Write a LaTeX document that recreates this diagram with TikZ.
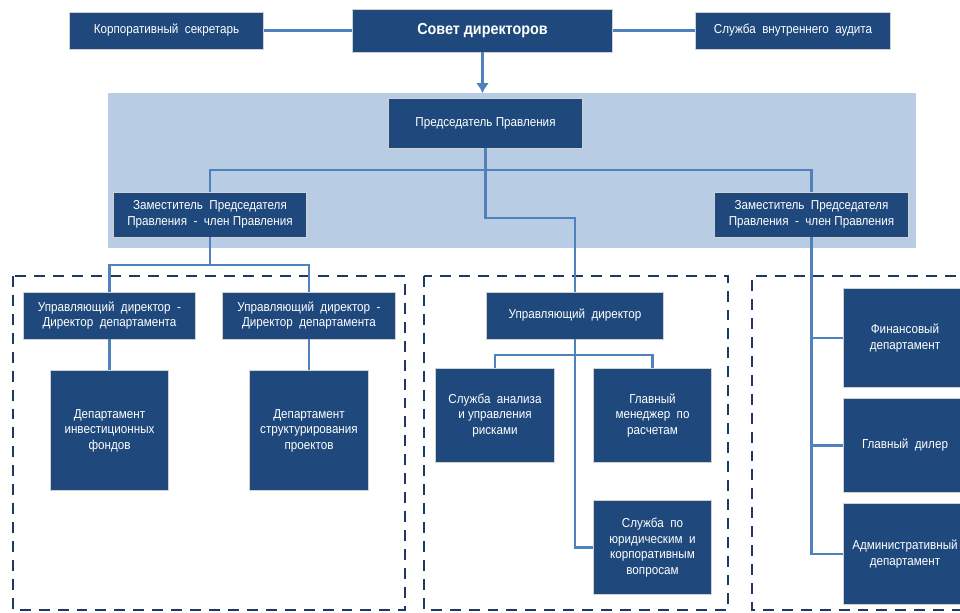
\documentclass[tikz,border=0pt]{standalone}
\usepackage{fontspec}
\setmainfont{Liberation Sans}[FakeStretch=0.9]
\usetikzlibrary{calc,arrows.meta}
\definecolor{boxblue}{RGB}{31,73,125}
\definecolor{linkblue}{RGB}{79,129,189}
\definecolor{bandblue}{RGB}{184,204,228}
\definecolor{dashnavy}{RGB}{31,56,100}
\tikzset{
  orgbox/.style={fill=boxblue, draw=black!18, line width=0.8, text=white, inner sep=0pt,
    align=center, font=\fontsize{13}{15.5}\selectfont},
  conn/.style={draw=linkblue, line width=2.6},
  grp/.style={draw=dashnavy, line width=2.4, dash pattern=on 11 off 8},
}
\begin{document}
\begin{tikzpicture}[x=1bp,y=-1bp]
\useasboundingbox (0,0) rectangle (960,613);
\clip (0,0) rectangle (960,613);
\fill[white] (0,0) rectangle (960,613);
% band
\node[fill=bandblue, minimum width=811, minimum height=155, inner sep=0] (band) at (511.5,170.5) {};
% dashed groups
\draw[grp] (13,276) rectangle (405,610);
\draw[grp] (424,276) rectangle (728,610);
\draw[grp] (975,276) -- (752,276) -- (752,610) -- (975,610);
% top row
\node[orgbox, minimum width=195, minimum height=37] (secr) at (166.5,30.5) {Корпоративный\ \ секретарь};
\node[orgbox, minimum width=261, minimum height=43, font=\fontsize{16}{19}\selectfont\bfseries] (sovet) at (482.5,30.5) {Совет директоров};
\node[orgbox, minimum width=196, minimum height=37] (audit) at (793,30.5) {Служба\ \ внутреннего\ \ аудита};
% board
\node[orgbox, minimum width=195, minimum height=50] (pred) at (485.5,123) {Председатель\ Правления};
\node[orgbox, minimum width=194, minimum height=45] (dep1) at (210,214.5) {Заместитель\ \ Председателя\\Правления\ \ -\ \ член Правления};
\node[orgbox, minimum width=195, minimum height=45] (dep2) at (811.5,214.5) {Заместитель\ \ Председателя\\Правления\ \ -\ \ член Правления};
% left group
\node[orgbox, minimum width=173, minimum height=47] (ld1) at (109.5,315.5) {Управляющий\ \ директор\ \ -\\Директор\ \ департамента};
\node[orgbox, minimum width=174, minimum height=47] (ld2) at (309,315.5) {Управляющий\ \ директор\ \ -\\Директор\ \ департамента};
\node[orgbox, minimum width=118, minimum height=121] (fund) at (109.5,430.5) {Департамент\\инвестиционных\\фондов};
\node[orgbox, minimum width=119, minimum height=121] (struct) at (309,430.5) {Департамент\\структурирования\\проектов};
% middle group
\node[orgbox, minimum width=178, minimum height=47] (ud) at (575,315.5) {Управляющий\ \ директор};
\node[orgbox, minimum width=120, minimum height=95] (risk) at (495,415.5) {Служба\ \ анализа\\и управления\\рисками};
\node[orgbox, minimum width=119, minimum height=95] (calc) at (652.5,415.5) {Главный\\менеджер\ \ по\\расчетам};
\node[orgbox, minimum width=119, minimum height=95] (jur) at (652.5,547.5) {Служба\ \ по\\юридическим\ \ и\\корпоративным\\вопросам};
% right group
\node[orgbox, minimum width=124, minimum height=100] (fin) at (905,338) {Финансовый\\департамент};
\node[orgbox, minimum width=124, minimum height=95] (dealer) at (905,445.5) {Главный\ \ дилер};
\node[orgbox, minimum width=124, minimum height=102] (adm) at (905,554) {Административный\\департамент};
% junctions
\coordinate (jTop) at (485.5,170);
\coordinate (jMid) at (485.5,218);
\coordinate (jLeft) at (210,265);
\coordinate (jUd) at (575,355);
% connectors
\draw[conn] (secr.east) -- (sovet.west);
\draw[conn] (sovet.east) -- (audit.west);
\draw[conn, -{Latex[length=10,width=13]}] (sovet.south) -- (sovet.south |- band.north);
\draw[conn] (dep1.north) |- (jTop) -| (dep2.north);
\draw[conn] (pred.south) -- (jMid) -| (ud.north);
\draw[conn] (dep1.south) -- (jLeft);
\draw[conn] (ld1.north) |- (jLeft) -| (ld2.north);
\draw[conn] (ld1.south) -- (fund.north);
\draw[conn] (ld2.south) -- (struct.north);
\draw[conn] (risk.north) |- (jUd) -| (calc.north);
\draw[conn] (ud.south) |- (jur.west);
\draw[conn] (dep2.south) |- (adm.west);
\draw[conn] (fin.west) -- (fin.west -| dep2.south);
\draw[conn] (dealer.west) -- (dealer.west -| dep2.south);
\end{tikzpicture}
\end{document}
